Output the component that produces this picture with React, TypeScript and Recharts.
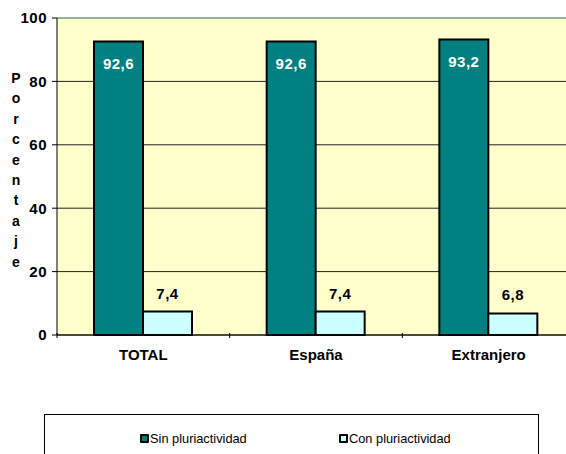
import React from "react";
import {
  BarChart,
  Bar,
  XAxis,
  YAxis,
  CartesianGrid,
  ReferenceLine,
  LabelList,
} from "recharts";

const categories = ["TOTAL", "España", "Extranjero"];
const sinPluri = [92.6, 92.6, 93.2];
const conPluri = [7.4, 7.4, 6.8];
const yTicks = [0, 20, 40, 60, 80, 100];
const yTitle = "Porcentaje";

const data = categories.map((name, i) => ({
  name,
  sin: sinPluri[i],
  con: conPluri[i],
}));

const TEAL = "#008080";
const CYAN = "#CCFFFF";
const FONT = "'Liberation Sans', Arial, sans-serif";

const fmt = (v: any) => String(v).replace(".", ",");

// category ticks: label at center, tick marks at band edges
function CategoryTick(props: any) {
  const { x, y, payload, index } = props;
  const band = 518 / categories.length;
  const last = index === categories.length - 1;
  return (
    <g>
      <line x1={x - band / 2} y1={y - 10} x2={x - band / 2} y2={y - 5} stroke="#000" />
      {last && <line x1={x + band / 2} y1={y - 10} x2={x + band / 2} y2={y - 5} stroke="#000" />}
      <text x={x} y={y + 17} textAnchor="middle" fontFamily={FONT} fontSize={15} fontWeight="bold" fill="#000">
        {payload.value}
      </text>
    </g>
  );
}

function StackedTitle() {
  return (
    <text x={16} y={83} textAnchor="middle" fontFamily={FONT} fontSize={14} fontWeight="bold" fill="#000">
      {yTitle.split("").map((ch, i) => (
        <tspan key={i} x={16} dy={i === 0 ? 0 : 20.4}>
          {ch}
        </tspan>
      ))}
    </text>
  );
}

function LegendBox() {
  const item = (color: string, label: string, left: number) => (
    <div style={{ position: "absolute", left, top: 16, display: "flex", alignItems: "center" }}>
      <span
        style={{
          display: "inline-block",
          width: 5,
          height: 5,
          background: color,
          border: "2px solid #000",
          borderRadius: 1,
          marginRight: 1,
        }}
      />
      <span style={{ fontFamily: FONT, fontSize: 12.8, color: "#000" }}>{label}</span>
    </div>
  );
  return (
    <div
      style={{
        position: "absolute",
        left: 44,
        top: 414,
        width: 493,
        height: 50,
        border: "1px solid #000",
        background: "#fff",
      }}
    >
      {item(TEAL, "Sin pluriactividad", 95)}
      {item(CYAN, "Con pluriactividad", 294)}
    </div>
  );
}

export default function App() {
  return (
    <div style={{ position: "absolute", left: 0, top: 0, width: 566, height: 454, overflow: "hidden", background: "#fff" }}>
      <BarChart
        width={580}
        height={454}
        data={data}
        margin={{ top: 18, right: 5, left: 0, bottom: 89 }}
        barCategoryGap={37}
        barGap={0}
      >
        <CartesianGrid vertical={false} stroke="#222" fill="#FFFFCC" fillOpacity={1} />
        <XAxis
          dataKey="name"
          height={30}
          axisLine={{ stroke: "#000", strokeWidth: 1 }}
          tickLine={false}
          tick={<CategoryTick />}
          interval={0}
        />
        <YAxis
          width={57}
          domain={[0, 100]}
          ticks={yTicks}
          axisLine={{ stroke: "#000", strokeWidth: 1 }}
          tickLine={{ stroke: "#000" }}
          tickSize={5}
          tickMargin={5}
          tick={{ fontFamily: FONT, fontSize: 15, fontWeight: "bold", fill: "#000", letterSpacing: 0.5 }}
          label={<StackedTitle />}
        />
        <ReferenceLine y={100} stroke="#a6cfa6" strokeWidth={1} />
        <Bar dataKey="sin" fill={TEAL} stroke="#000" strokeWidth={2} isAnimationActive={false}>
          <LabelList
            dataKey="sin"
            position="insideTop"
            offset={17}
            formatter={fmt}
            fill="#fff"
            fontFamily={FONT}
            fontSize={15}
            fontWeight="bold"
            letterSpacing={0.5}
          />
        </Bar>
        <Bar dataKey="con" fill={CYAN} stroke="#000" strokeWidth={2} isAnimationActive={false}>
          <LabelList
            dataKey="con"
            position="top"
            offset={13}
            formatter={fmt}
            fill="#000"
            fontFamily={FONT}
            fontSize={15}
            fontWeight="bold"
            letterSpacing={0.5}
          />
        </Bar>
      </BarChart>
      <LegendBox />
    </div>
  );
}
